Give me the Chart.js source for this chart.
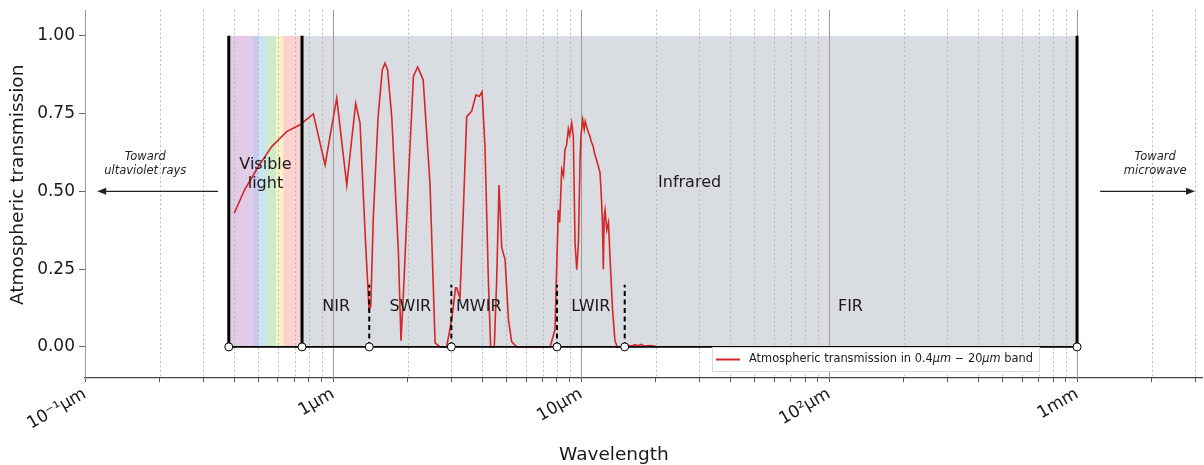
<!DOCTYPE html>
<html>
<head>
<meta charset="utf-8">
<script src="https://cdn.jsdelivr.net/npm/chart.js@4.4.0/dist/chart.umd.min.js"></script>
<style>
html, body { margin: 0; padding: 0; background: #fff; }
</style>
</head>
<body>
<canvas id="chart" width="1204" height="465"></canvas>
<script>
// Transmission curve (wavelength in µm)
const wavelengths = [
    0.40, 0.44, 0.50, 0.566, 0.65, 0.736, 0.833, 0.929, 1.035, 1.136, 1.234, 1.285, 1.35, 1.397,
    1.42, 1.454, 1.52, 1.58, 1.62, 1.66, 1.725, 1.834, 1.88, 1.93, 2.01, 2.11, 2.195, 2.31, 2.46,
    2.58, 2.7, 2.87, 2.95, 3.03, 3.12, 3.15, 3.25, 3.35, 3.46, 3.62, 3.77, 3.89, 3.99, 4.10, 4.23,
    4.32, 4.47, 4.57, 4.67, 4.79, 4.94, 5.10, 5.25, 5.5, 7.5, 7.85, 8.10, 8.2, 8.36, 8.5, 8.61,
    8.75, 8.89, 9.0, 9.17, 9.31, 9.46, 9.61, 9.76, 9.91, 10.0, 10.16, 10.3, 10.4, 10.54, 10.7,
    10.87, 11.0, 11.2, 11.35, 11.56, 11.75, 11.93, 12.1, 12.2, 12.3, 12.4, 12.5, 12.7, 12.9, 13.1,
    13.4, 13.7, 14.0, 14.5, 15.5, 16, 16.5, 17, 17.5, 18, 19, 20
];
const transmission = [
    0.43, 0.505, 0.58, 0.644, 0.692, 0.714, 0.749, 0.585, 0.80, 0.52, 0.783, 0.72, 0.35, 0.12,
    0.13, 0.42, 0.74, 0.89, 0.912, 0.89, 0.74, 0.31, 0.02, 0.2, 0.526, 0.87, 0.90, 0.858, 0.526,
    0.013, 0, 0, 0.05, 0.108, 0.19, 0.19, 0.157, 0.43, 0.74, 0.757, 0.81, 0.805, 0.82, 0.644, 0.215,
    0, 0, 0.215, 0.52, 0.32, 0.28, 0.087, 0.017, 0, 0, 0.055, 0.44, 0.40, 0.57, 0.55, 0.633,
    0.65, 0.70, 0.68, 0.72, 0.676, 0.333, 0.248, 0.333, 0.60, 0.68, 0.73, 0.70, 0.725, 0.708, 0.69,
    0.676, 0.66, 0.644, 0.62, 0.60, 0.58, 0.56, 0.47, 0.40, 0.25, 0.42, 0.44, 0.376, 0.40, 0.28,
    0.12, 0.02, 0, 0, 0.005, 0.003, 0.007, 0.004, 0.008, 0.003, 0.004, 0.002
];

// Band boundaries and names
const bandEdges = [0.38, 0.75, 1.4, 3, 8, 15, 1000];
const bandNames = ['NIR', 'SWIR', 'MWIR', 'LWIR', 'FIR'];
const bandCenters = [1.03, 2.05, 3.87, 10.95, 122];

// Visible spectrum stripes
const spectrumEdges = [0.38, 0.475, 0.50, 0.54, 0.59, 0.63, 0.75];
const spectrumColors = ['#e2cbe7', '#c8c9ef', '#cae5f1', '#cfecca', '#f8f4c6', '#fbd2cf'];

// Axis ticks
const yTicks = [0, 0.25, 0.5, 0.75, 1];
const xDecades = [0.1, 1, 10, 100, 1000];
const xDecadeLabels = ['10⁻¹µm', '1µm', '10µm', '10²µm', '1mm'];
const xMin = 0.1, xMax = 3190;

const FONT = "'DejaVu Sans', sans-serif";

function xTickValues() {
    const out = [];
    for (let e = -1; e <= 3; e++) {
        for (let m = 1; m <= 9; m++) {
            const v = parseFloat((m * Math.pow(10, e)).toPrecision(3));
            if (v >= xMin && v <= xMax) out.push(v);
        }
    }
    return out;
}

function arrow(ctx, x1, y1, x2, y2) {
    const dir = Math.sign(x2 - x1);
    ctx.beginPath();
    ctx.moveTo(x1, y1);
    ctx.lineTo(x2 - dir * 6, y2);
    ctx.stroke();
    ctx.beginPath();
    ctx.moveTo(x2, y2);
    ctx.lineTo(x2 - dir * 9, y2 - 3.5);
    ctx.lineTo(x2 - dir * 9, y2 + 3.5);
    ctx.closePath();
    ctx.fill();
}

const backdrop = {
    id: 'backdrop',
    beforeDatasetsDraw(chart) {
        const {ctx, chartArea: ca, scales: {x, y}} = chart;
        ctx.save();
        // infrared region
        ctx.fillStyle = '#d9dde1';
        ctx.fillRect(x.getPixelForValue(0.75), y.getPixelForValue(1),
            x.getPixelForValue(1000) - x.getPixelForValue(0.75), y.getPixelForValue(0) - y.getPixelForValue(1));
        // visible stripes
        spectrumColors.forEach((c, i) => {
            const a = x.getPixelForValue(spectrumEdges[i]), b = x.getPixelForValue(spectrumEdges[i + 1]);
            ctx.fillStyle = c;
            ctx.fillRect(a, y.getPixelForValue(1), b - a + 0.5, y.getPixelForValue(0) - y.getPixelForValue(1));
        });
        // vertical grid
        xTickValues().forEach(v => {
            const px = Math.round(x.getPixelForValue(v)) + 0.5;
            const major = xDecades.includes(v);
            ctx.beginPath();
            ctx.strokeStyle = major ? '#9a9a9a' : '#b4b4b4';
            ctx.lineWidth = major ? 1 : 0.9;
            ctx.setLineDash(major ? [] : [2, 2.5]);
            ctx.moveTo(px, ca.top);
            ctx.lineTo(px, ca.bottom);
            ctx.stroke();
        });
        ctx.restore();
    },
    afterDatasetsDraw(chart) {
        const {ctx, chartArea: ca, scales: {x, y}} = chart;
        const X = v => x.getPixelForValue(v), Y = v => y.getPixelForValue(v);
        ctx.save();
        ctx.strokeStyle = '#000';
        ctx.fillStyle = '#000';
        // baseline
        ctx.lineWidth = 1.6;
        ctx.beginPath();
        ctx.moveTo(X(0.38), Y(0));
        ctx.lineTo(X(1000), Y(0));
        ctx.stroke();
        // solid borders
        ctx.lineWidth = 3;
        [0.38, 0.75, 1000].forEach(v => {
            ctx.beginPath();
            ctx.moveTo(X(v), Y(0));
            ctx.lineTo(X(v), Y(1));
            ctx.stroke();
        });
        // dashed sub-band borders
        ctx.lineWidth = 2;
        ctx.setLineDash([5, 3.5]);
        [1.4, 3, 8, 15].forEach(v => {
            ctx.beginPath();
            ctx.moveTo(X(v), Y(0));
            ctx.lineTo(X(v), Y(0.2));
            ctx.stroke();
        });
        ctx.setLineDash([]);
        // markers
        ctx.lineWidth = 1;
        bandEdges.forEach(v => {
            ctx.beginPath();
            ctx.arc(X(v), Y(0), 4, 0, Math.PI * 2);
            ctx.fillStyle = '#fff';
            ctx.fill();
            ctx.stroke();
        });

        // region labels
        ctx.fillStyle = '#1a1a1a';
        ctx.textAlign = 'center';
        ctx.textBaseline = 'middle';
        ctx.font = '16px ' + FONT;
        ctx.fillText('Visible', X(0.534), Y(0.585));
        ctx.fillText('light', X(0.534), Y(0.523));
        ctx.fillText('Infrared', X(27.4), Y(0.527));
        bandNames.forEach((n, i) => ctx.fillText(n, X(bandCenters[i]), Y(0.13)));

        // arrows
        ctx.fillStyle = '#222';
        ctx.strokeStyle = '#222';
        ctx.lineWidth = 1.3;
        arrow(ctx, X(0.344), Y(0.5), X(0.112), Y(0.5));
        arrow(ctx, X(1239), Y(0.5), X(2990), Y(0.5));
        ctx.font = 'italic 11.5px ' + FONT;
        ctx.fillText('Toward', X(0.175), Y(0.61));
        ctx.fillText('ultaviolet rays', X(0.175), Y(0.565));
        ctx.fillText('Toward', X(2065), Y(0.61));
        ctx.fillText('microwave', X(2065), Y(0.565));

        // legend box
        const lx = 712, ly = 347, lw = 328, lh = 25;
        ctx.fillStyle = 'rgba(255,255,255,0.9)';
        ctx.fillRect(lx, ly, lw, lh);
        ctx.strokeStyle = '#d8d8d8';
        ctx.lineWidth = 1;
        ctx.strokeRect(lx + 0.5, ly + 0.5, lw - 1, lh - 1);
        ctx.strokeStyle = '#d62728';
        ctx.lineWidth = 2;
        ctx.beginPath();
        ctx.moveTo(lx + 4, ly + 12.5);
        ctx.lineTo(lx + 28, ly + 12.5);
        ctx.stroke();
        const parts = [['Atmospheric transmission in 0.4', ''], ['μm', 'italic '], [' − 20', ''], ['μm', 'italic '], [' band', '']];
        let tx = lx + 37;
        ctx.fillStyle = '#1a1a1a';
        ctx.textAlign = 'left';
        parts.forEach(([t, st]) => {
            ctx.font = st + '11.4px ' + FONT;
            ctx.fillText(t, tx, ly + 12.5);
            tx += ctx.measureText(t).width;
        });
        ctx.restore();
    },
    afterDraw(chart) {
        // axis titles
        const {ctx, chartArea: ca} = chart;
        ctx.save();
        ctx.fillStyle = '#1a1a1a';
        ctx.textAlign = 'center';
        ctx.textBaseline = 'middle';
        ctx.font = '18.5px ' + FONT;
        ctx.fillText('Wavelength', ca.left + 0.4735 * (ca.right - ca.left), 455);
        ctx.translate(18, ca.top + 0.475 * (ca.bottom - ca.top));
        ctx.rotate(-Math.PI / 2);
        ctx.fillText('Atmospheric transmission', 0, 0);
        ctx.restore();
    }
};

new Chart(document.getElementById('chart'), {
    type: 'line',
    data: {
        datasets: [{
            label: 'Atmospheric transmission in 0.4μm − 20μm band',
            data: wavelengths.map((w, i) => ({x: w, y: transmission[i]})),
            borderColor: '#d62728',
            borderWidth: 1.6,
            pointRadius: 0,
            tension: 0,
            fill: false
        }]
    },
    options: {
        responsive: false,
        animation: false,
        events: [],
        layout: { padding: { top: 10, right: 2, left: 0, bottom: 0 } },
        plugins: { legend: { display: false }, tooltip: { enabled: false } },
        scales: {
            x: {
                type: 'logarithmic',
                min: xMin,
                max: xMax,
                afterBuildTicks: s => { s.ticks = xTickValues().map(v => ({value: v})); },
                afterFit: s => { s.height = 87; s.paddingLeft = 0; s.paddingRight = 0; },
                ticks: {
                    autoSkip: false,
                    maxRotation: 30,
                    minRotation: 30,
                    padding: 2,
                    color: '#1a1a1a',
                    font: { family: FONT, size: 17 },
                    callback: v => {
                        const i = xDecades.findIndex(d => Math.abs(d - v) / d < 1e-6);
                        return i >= 0 ? xDecadeLabels[i] : '';
                    }
                },
                grid: { drawOnChartArea: false, drawTicks: true, tickLength: 4, color: '#555' },
                border: { display: true, color: '#444', width: 1.2 }
            },
            y: {
                type: 'linear',
                min: -0.1,
                max: 1.083,
                afterBuildTicks: s => { s.ticks = yTicks.map(v => ({value: v})); },
                afterFit: s => { s.width = 85; s.paddingTop = 0; s.paddingBottom = 0; },
                ticks: {
                    color: '#1a1a1a',
                    padding: 4,
                    font: { family: FONT, size: 17 },
                    callback: v => v.toFixed(2)
                },
                grid: { drawOnChartArea: false, drawTicks: true, tickLength: 6, color: '#666' },
                border: { display: true, color: '#888', width: 1 }
            }
        }
    },
    plugins: [backdrop]
});
</script>
</body>
</html>
